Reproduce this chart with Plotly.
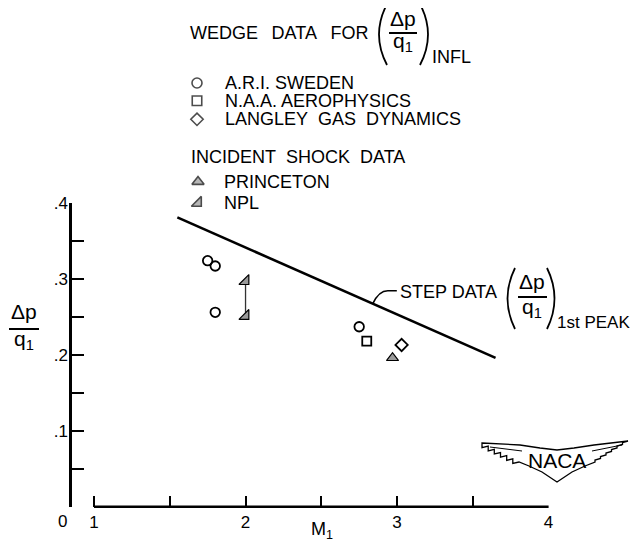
import plotly.graph_objects as go

# ---------------- data ----------------
ari_x = [1.75, 1.80, 1.80, 2.75]
ari_y = [0.324, 0.317, 0.256, 0.237]
naa_x = [2.80]
naa_y = [0.218]
langley_x = [3.03]
langley_y = [0.213]
princeton_x = [2.97]
princeton_y = [0.196]
npl_x = [2.0, 2.0]
npl_y = [0.297, 0.251]
step_x = [1.55, 3.65]
step_y = [0.381, 0.196]

x_tickvals = [1, 2, 3, 4]
x_ticktext = ["1", "2", "3", "4"]
x_minorvals = [1.5, 2.5, 3.5]
y_tickvals = [0, 0.1, 0.2, 0.3, 0.4]
y_ticktext = ["", ".1", ".2", ".3", ".4"]
y_minorvals = [0.05, 0.15, 0.25, 0.35]

legend_wedge = ["A.R.I. SWEDEN", "N.A.A. AEROPHYSICS", "LANGLEY&nbsp;&nbsp;GAS&nbsp;&nbsp;DYNAMICS"]
legend_shock = ["PRINCETON", "NPL"]

# ---------------- geometry (page pixels) ----------------
PAGE_W, PAGE_H = 639, 543
OFF = 8                      # default body margin of the html page
W, H = PAGE_W - OFF, PAGE_H - OFF
AX_L, AX_R = 72.0, 548.6
AX_T, AX_B = 203.0, 506.7
X_MIN, X_MAX = 0.8548, 4.0
Y_MIN, Y_MAX = 0.0, 0.4
FONT = "Liberation Sans, Arial, Helvetica, sans-serif"
BLACK = "black"
TRI_FILL = "#9a9a9a"


def px(x):
    return AX_L + (x - X_MIN) / (X_MAX - X_MIN) * (AX_R - AX_L)


def py(y):
    return AX_B - (y - Y_MIN) / (Y_MAX - Y_MIN) * (AX_B - AX_T)


fig = go.Figure()

# ---------------- data traces ----------------
fig.add_trace(go.Scatter(x=step_x, y=step_y, mode="lines",
                         line=dict(color=BLACK, width=2.6), hoverinfo="skip"))
fig.add_trace(go.Scatter(x=npl_x, y=npl_y, mode="lines+markers",
                         line=dict(color="#333", width=1.3),
                         marker=dict(symbol="triangle-se", size=11, color=TRI_FILL,
                                     line=dict(color=BLACK, width=1.2))))
fig.add_trace(go.Scatter(x=ari_x, y=ari_y, mode="markers",
                         marker=dict(symbol="circle-open", size=9.5, color=BLACK,
                                     line=dict(color=BLACK, width=1.8))))
fig.add_trace(go.Scatter(x=naa_x, y=naa_y, mode="markers",
                         marker=dict(symbol="square-open", size=9, color=BLACK,
                                     line=dict(color=BLACK, width=1.8))))
fig.add_trace(go.Scatter(x=langley_x, y=langley_y, mode="markers",
                         marker=dict(symbol="diamond-open", size=9.5, color=BLACK,
                                     line=dict(color=BLACK, width=1.8))))
fig.add_trace(go.Scatter(x=princeton_x, y=princeton_y, mode="markers",
                         marker=dict(symbol="triangle-up", size=10.5, color=TRI_FILL,
                                     line=dict(color=BLACK, width=1.2))))

# ---------------- legend glyphs (page-pixel overlay axes) ----------------
leg_sym = ["circle-open", "square-open", "diamond-open", "triangle-up", "triangle-se"]
leg_size = [10, 9.5, 9.5, 10.5, 11]
leg_col = [BLACK, BLACK, BLACK, TRI_FILL, TRI_FILL]
leg_x = [197, 197, 197, 198, 198]
leg_y = [83, 100.7, 119.3, 181.7, 203.0]
fig.add_trace(go.Scatter(x=leg_x, y=leg_y, mode="markers", xaxis="x2", yaxis="y2",
                         marker=dict(symbol=leg_sym, size=leg_size, color=leg_col,
                                     line=dict(color=BLACK, width=1.6)),
                         hoverinfo="skip"))


def txt(x, y, s, size=18, xanchor="left", yanchor="middle"):
    return dict(x=x, y=y, xref="x2", yref="y2", text=s, showarrow=False,
                font=dict(family=FONT, size=size, color=BLACK),
                xanchor=xanchor, yanchor=yanchor)


def hline(x0, x1, y, w=2.0):
    return dict(type="line", xref="x2", yref="y2", x0=x0, x1=x1, y0=y, y1=y,
                line=dict(color=BLACK, width=w))


def paren(x_end, x_bulge, y0, y1, w=1.8):
    ym = (y0 + y1) / 2
    return dict(type="path", xref="x2", yref="y2",
                path=f"M {x_end},{y0} Q {x_bulge},{ym} {x_end},{y1}",
                line=dict(color=BLACK, width=w))


annotations = []
shapes = []

# header
annotations.append(txt(188, 33, "WEDGE&nbsp;&nbsp;\u2009DATA&nbsp;&nbsp;\u2009FOR"))
shapes.append(paren(387, 371, 4, 65))
annotations.append(txt(403, 18, "Δp", size=21, xanchor="center"))
shapes.append(hline(389, 417, 33))
annotations.append(txt(403, 42, "q<sub>1</sub>", size=21, xanchor="center"))
shapes.append(paren(420, 436, 4, 65))
annotations.append(txt(430, 57, "INFL"))

for i, lab in enumerate(legend_wedge):
    annotations.append(txt(223, leg_y[i], lab))
annotations.append(txt(189, 157, "INCIDENT&nbsp;&nbsp;SHOCK&nbsp;&nbsp;DATA"))
for i, lab in enumerate(legend_shock):
    annotations.append(txt(222, leg_y[3 + i], lab))

# step data label with leader
x_att = 2.84
y_att = step_y[0] + (step_y[1] - step_y[0]) * (x_att - step_x[0]) / (step_x[1] - step_x[0])
ax_, ay_ = px(x_att), py(y_att)
shapes.append(dict(type="path", xref="x2", yref="y2",
                   path=f"M {ax_},{ay_} Q {ax_ + 6},{ay_ - 13} {ax_ + 15},{ay_ - 13} L {ax_ + 24},{ay_ - 13}",
                   line=dict(color=BLACK, width=1.6)))
annotations.append(txt(ax_ + 25, ay_ - 12, "STEP DATA"))
shapes.append(paren(515, 500, 268, 329))
annotations.append(txt(532, 281, "Δp", size=21, xanchor="center"))
shapes.append(hline(518, 547, 297))
annotations.append(txt(532, 308, "q<sub>1</sub>", size=21, xanchor="center"))
shapes.append(paren(547, 562, 268, 329))
annotations.append(txt(555, 322, "1st&nbsp;PEAK", size=17))

# y-axis title
annotations.append(txt(24, 311, "Δp", size=21, xanchor="center"))
shapes.append(hline(9, 39, 329))
annotations.append(txt(24, 340, "q<sub>1</sub>", size=21, xanchor="center"))

# x-axis title and origin label
annotations.append(txt(322, 530, "M<sub>1</sub>", size=18, xanchor="center"))
annotations.append(txt(62, 521.5, "0", size=17, xanchor="center"))

# x-axis line (from M=1 to M=4)
shapes.append(dict(type="line", xref="x2", yref="y2", x0=px(1), x1=px(4),
                   y0=py(0), y1=py(0), line=dict(color=BLACK, width=2.5)))


# NACA logo
def staircase(p0, p1, n):
    pts = []
    for i in range(n):
        a = (p0[0] + (p1[0] - p0[0]) * i / n, p0[1] + (p1[1] - p0[1]) * i / n)
        b = (p0[0] + (p1[0] - p0[0]) * (i + 1) / n, p0[1] + (p1[1] - p0[1]) * (i + 1) / n)
        pts.append((b[0], a[1] + 1.5))
        pts.append(b)
    return pts


L_tip, R_tip = (482, 443), (628, 441)
pts = [L_tip, (520, 445), (540, 448), (557, 450), (574, 448), (594, 445), R_tip]
pts += staircase(R_tip, (595, 462), 6)
pts += [(585, 466), (572, 472), (557, 482), (542, 472), (529, 466), (519, 462)]
pts += staircase((519, 462), L_tip, 6)
path = "M " + " L ".join(f"{x:.1f},{y:.1f}" for x, y in pts) + " Z"
shapes.append(dict(type="path", xref="x2", yref="y2", path=path,
                   line=dict(color=BLACK, width=1.3)))
shapes.append(dict(type="path", xref="x2", yref="y2",
                   path="M 490,447 L 522,451 M 592,451 L 622,445",
                   line=dict(color=BLACK, width=1.0)))
annotations.append(txt(557, 460, "NACA", size=21, xanchor="center"))

tickfont = dict(family=FONT, size=17, color=BLACK)
fig.update_layout(
    width=W, height=H, margin=dict(l=0, r=0, t=0, b=0),
    template="none", showlegend=False,
    paper_bgcolor="white", plot_bgcolor="rgba(0,0,0,0)",
    xaxis=dict(domain=[(AX_L - OFF) / W, (AX_R - OFF) / W], range=[X_MIN, X_MAX], anchor="y",
               showline=False, showgrid=False, zeroline=False, automargin=False,
               ticks="inside", ticklen=11, tickwidth=2, tickcolor=BLACK,
               tickvals=x_tickvals, ticktext=x_ticktext, tickfont=tickfont,
               ticklabelstandoff=3,
               minor=dict(tickvals=x_minorvals, ticks="inside", ticklen=11,
                          tickwidth=2, tickcolor=BLACK, showgrid=False),
               fixedrange=True),
    yaxis=dict(domain=[(PAGE_H - AX_B) / H, (PAGE_H - AX_T) / H], range=[Y_MIN, Y_MAX], anchor="x",
               showline=True, linecolor=BLACK, linewidth=2.5,
               showgrid=False, zeroline=False, automargin=False,
               ticks="inside", ticklen=12, tickwidth=2, tickcolor=BLACK,
               tickvals=y_tickvals, ticktext=y_ticktext, tickfont=tickfont,
               ticklabelstandoff=-2,
               minor=dict(tickvals=y_minorvals, ticks="inside", ticklen=12,
                          tickwidth=2, tickcolor=BLACK, showgrid=False),
               fixedrange=True),
    xaxis2=dict(domain=[0, 1], range=[OFF, PAGE_W], anchor="y2", visible=False, fixedrange=True),
    yaxis2=dict(domain=[0, 1], range=[PAGE_H, OFF], anchor="x2", visible=False, fixedrange=True),
    annotations=annotations, shapes=shapes,
)

fig.write_html("out.html")
